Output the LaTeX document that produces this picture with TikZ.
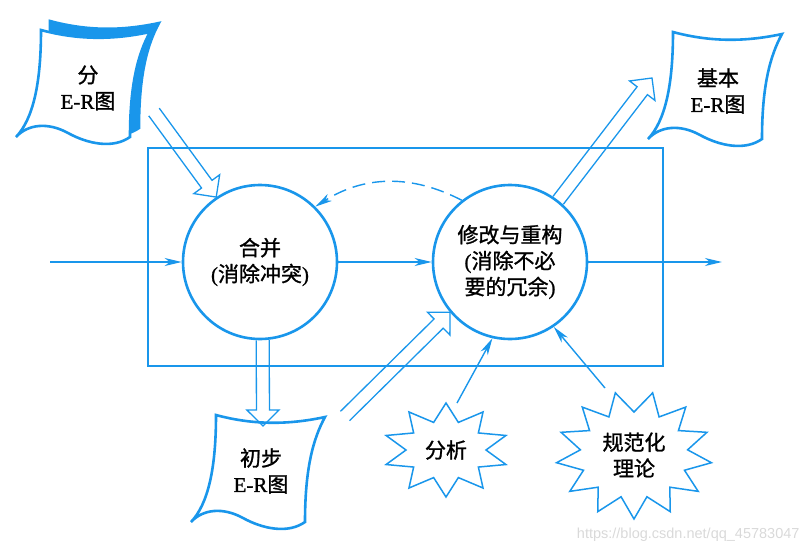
\documentclass[tikz,border=0pt]{standalone}
\usepackage{fontspec}
\setmainfont{Liberation Serif}[FakeBold=1]
\newfontfamily\cjk{Noto Sans CJK SC}[FakeBold=1.2]
\newfontfamily\wmfont{Liberation Sans}
\usetikzlibrary{arrows.meta,calc}
\definecolor{erblue}{RGB}{25,150,235}

\tikzset{
  lbl/.style={align=center, font=\fontsize{21}{26}\selectfont},
  proc/.style={lbl, circle, draw=erblue, line width=2.6pt, minimum size=154pt, inner sep=0pt},
  flow/.style={erblue, line width=1.4pt, -{Stealth[length=17pt,width=8pt,inset=5pt]}},
  hollowline/.style={erblue, line width=1.3pt, line join=miter},
  docline/.style={draw=erblue, line width=2.6pt},
  starline/.style={erblue, line width=1.5pt, line join=miter},
  frame/.style={draw=erblue, line width=1.5pt},
  erdoc/.pic={
    \draw[docline, fill=#1] (-42,-54) .. controls (-5,-44) and (30,-44) .. (67,-52)
      .. controls (55,-30) and (47,0) .. (47,53)
      .. controls (30,65) and (5,60) .. (-15,49)
      .. controls (-35,38) and (-55,40) .. (-67,53)
      .. controls (-50,35) and (-42,0) .. cycle;
  }
}

\newcommand{\hollowarrow}[2]{%
  \coordinate (neck) at ($(#2)!16pt!(#1)$);
  \draw[hollowline] ($(#1)!6.5pt!90:(#2)$) -- ($(neck)!6.5pt!-90:(#1)$)
    -- ($(neck)!16pt!-90:(#1)$) -- (#2) -- ($(neck)!16pt!90:(#1)$)
    -- ($(neck)!6.5pt!90:(#1)$) -- ($(#1)!6.5pt!-90:(#2)$);
}

\begin{document}
\begin{tikzpicture}[x=1pt,y=-1pt]
\useasboundingbox (0,0) rectangle (812,552);

\draw[frame] (148,148) rectangle (663,366);

\node[proc] (c1) at (260,262) {{\cjk 合并}\\({\cjk 消除冲突})};
\node[proc] (c2) at (510,262) {{\cjk 修改与重构}\\({\cjk 消除不必}\\{\cjk 要的冗余})};

% documents
\pic at (92,75) {erdoc=erblue};
\pic at (83,84) {erdoc=white};
\node[lbl] (d1) at (88,88) {{\cjk 分}\\E-R{\cjk 图}};
\pic at (258,469) {erdoc=white};
\node[lbl] (d2) at (261,471) {{\cjk 初步}\\E-R{\cjk 图}};
\pic at (715,86) {erdoc=white};
\node[lbl] (d3) at (718,91) {{\cjk 基本}\\E-R{\cjk 图}};

% stars
\node[lbl] (s1) at (446,450) {\cjk 分析};
\draw[starline] ($(s1)+(90:63 and 47)$) \foreach \k in {1,...,10} {
  -- ($(s1)+({90+(\k-0.5)*36}:40 and 29)$) -- ($(s1)+({90+\k*36}:63 and 47)$) } -- cycle;
\node[lbl] (s2) at (634,455) {{\cjk 规范化}\\{\cjk 理论}};
\draw[starline] ($(s2)+(90:78 and 64)$) \foreach \k in {1,...,13} {
  -- ($(s2)+({90+(\k-0.5)*360/13}:54 and 43)$) -- ($(s2)+({90+\k*360/13}:78 and 64)$) } -- cycle;

\coordinate (in) at (50,262);
\coordinate (out) at (722,262);
\draw[flow] (in) -- (c1);
\draw[flow] (c1) -- (c2);
\draw[flow] (c2) -- (out);
\draw[flow, dash pattern=on 13pt off 7pt] (c2.128) to[bend right=30] (c1.45);

\coordinate (a1) at (457,403);
\coordinate (a2) at (605,388);
\draw[flow] (a1) -- (c2.257);
\draw[flow] (a2) -- (c2.-56);

\coordinate (t1) at (154,112);
\coordinate (t2) at (263,426);
\coordinate (t3) at (345,416);
\coordinate (t4) at (652,78);
\hollowarrow{t1}{c1.124}
\hollowarrow{c1.272}{t2}
\hollowarrow{t3}{c2.220}
\hollowarrow{c2.52}{t4}

\node[font=\wmfont\fontsize{14.5}{16}\selectfont, text=gray!30, anchor=east] (wm) at (803,535) {https://blog.csdn.net/qq\_45783047};
\end{tikzpicture}
\end{document}
